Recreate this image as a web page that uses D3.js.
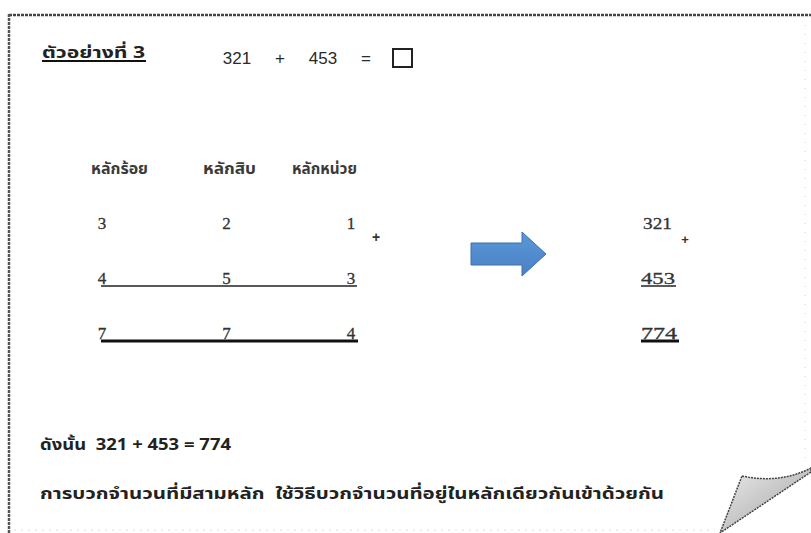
<!DOCTYPE html>
<html><head><meta charset="utf-8">
<script src="https://cdn.jsdelivr.net/npm/d3@7"></script>
<style>
html,body{margin:0;padding:0;background:#fff;}
svg{display:block;}
.th{font-family:Tahoma,"Noto Sans Thai","Noto Sans","DejaVu Sans",sans-serif;}
.num{font-family:"Liberation Serif","DejaVu Serif",serif;}
.sans{font-family:"Liberation Sans","DejaVu Sans",sans-serif;}
</style></head>
<body>
<script>
// ---- data ----
const title = "ตัวอย่างที่ 3";
const problemTokens = ["321", "+", "453", "="];
const places = ["หลักร้อย", "หลักสิบ", "หลักหน่วย"];
const addend1 = [3, 2, 1];
const addend2 = [4, 5, 3];
const total = [7, 7, 4];
const rowKeys = ["a1", "a2", "sum"];
const compact = ["321", "453", "774"];
const conclusion = "ดังนั้น  321 + 453 = 774";
const summary = "การบวกจำนวนที่มีสามหลัก  ใช้วิธีบวกจำนวนที่อยู่ในหลักเดียวกันเข้าด้วยกัน";

const W = 811, H = 533;
const svg = d3.select("body").append("svg").attr("width", W).attr("height", H);
svg.append("rect").attr("width", W).attr("height", H).attr("fill", "#fff");
const defs = svg.append("defs");

// page frame
svg.append("line").attr("x1", 9).attr("x2", W).attr("y1", 15).attr("y2", 15)
  .attr("stroke", "#444").attr("stroke-width", 2.5).attr("stroke-dasharray", "3,1");
svg.append("line").attr("x1", 9).attr("x2", 9).attr("y1", 14).attr("y2", H)
  .attr("stroke", "#555").attr("stroke-width", 2.5).attr("stroke-dasharray", "3,1");
svg.append("line").attr("x1", 805).attr("x2", 805).attr("y1", 25).attr("y2", 460)
  .attr("stroke", "#d4d4d4").attr("stroke-width", 1).attr("stroke-dasharray", "1,8");
svg.append("line").attr("x1", 14).attr("x2", 715).attr("y1", 530).attr("y2", 530)
  .attr("stroke", "#e0e0e0").attr("stroke-width", 1).attr("stroke-dasharray", "2,5");

// title
svg.append("text").attr("class", "th").attr("x", 42).attr("y", 58)
  .attr("font-size", 16).attr("font-weight", "bold").attr("fill", "#222")
  .attr("textLength", 103).attr("lengthAdjust", "spacingAndGlyphs").text(title);
svg.append("line").attr("x1", 42).attr("x2", 146).attr("y1", 61).attr("y2", 61)
  .attr("stroke", "#111").attr("stroke-width", 2);

// problem line
const px = d3.scalePoint().domain(problemTokens.map((d, i) => i)).range([237, 366]);
svg.selectAll("text.prob").data(problemTokens).join("text").attr("class", "prob sans")
  .attr("x", (d, i) => px(i)).attr("y", 64).attr("text-anchor", "middle")
  .attr("font-size", 17).attr("fill", "#2a2a2a").text(d => d);
svg.append("rect").attr("x", 393).attr("y", 49).attr("width", 19).attr("height", 18)
  .attr("fill", "none").attr("stroke", "#222").attr("stroke-width", 2);

// columns
const x = d3.scalePoint().domain(places).range([102, 351]);
const xh = d3.scaleOrdinal().domain(places).range([119.5, 229.5, 324.5]);
const hw = d3.scaleOrdinal().domain(places).range([57, 53, 65]);
const y = d3.scalePoint().domain(rowKeys).range([229, 339]);

svg.selectAll("text.hdr").data(places).join("text").attr("class", "hdr th")
  .attr("x", d => xh(d) - hw(d) / 2).attr("y", 174)
  .attr("textLength", d => hw(d)).attr("lengthAdjust", "spacingAndGlyphs")
  .attr("font-size", 16).attr("font-weight", "bold").attr("fill", "#3a3a3a").text(d => d);

const rows = [addend1, addend2, total];
rows.forEach((vals, r) => {
  svg.selectAll("text.r" + r).data(vals).join("text").attr("class", "num r" + r)
    .attr("x", (d, i) => x(places[i])).attr("y", y(rowKeys[r]))
    .attr("text-anchor", "middle").attr("font-size", 17)
    .attr("fill", "#333").attr("stroke", "#333").attr("stroke-width", 0.3).text(d => d);
});
svg.append("text").attr("class", "sans").attr("x", 376).attr("y", 242).attr("text-anchor", "middle")
  .attr("font-size", 14).attr("font-weight", "bold").attr("fill", "#333").text("+");
svg.append("line").attr("x1", x(places[0]) - 1).attr("x2", x(places[2]) + 6)
  .attr("y1", y("a2") + 2).attr("y2", y("a2") + 2).attr("stroke", "#222").attr("stroke-width", 1.6);
svg.append("line").attr("x1", x(places[0]) - 1).attr("x2", x(places[2]) + 7)
  .attr("y1", y("sum") + 2).attr("y2", y("sum") + 2).attr("stroke", "#111").attr("stroke-width", 3);

// arrow
const ax0 = 471, ax1 = 546, ay = 254;
const arrowPath = d3.path();
arrowPath.moveTo(ax0, ay - 11); arrowPath.lineTo(522, ay - 11); arrowPath.lineTo(522, ay - 22);
arrowPath.lineTo(ax1, ay); arrowPath.lineTo(522, ay + 22); arrowPath.lineTo(522, ay + 11);
arrowPath.lineTo(ax0, ay + 11); arrowPath.closePath();
const grad = defs.append("linearGradient").attr("id", "ag")
  .attr("x1", 0).attr("y1", 0).attr("x2", 0).attr("y2", 1);
grad.append("stop").attr("offset", "0%").attr("stop-color", "#5b98d8");
grad.append("stop").attr("offset", "100%").attr("stop-color", "#4a80c4");
svg.append("path").attr("d", arrowPath.toString()).attr("fill", "url(#ag)")
  .attr("stroke", "#3f70ae").attr("stroke-width", 1);

// compact form
const cw = d3.scaleOrdinal().domain(compact).range([29, 34, 36]);
svg.selectAll("text.cmp").data(compact).join("text").attr("class", "cmp num")
  .attr("x", (d, i) => i === 0 ? 643 : 641).attr("y", (d, i) => y(rowKeys[i]))
  .attr("textLength", d => cw(d)).attr("lengthAdjust", "spacingAndGlyphs")
  .attr("font-size", 17).attr("fill", "#333").attr("stroke", "#333").attr("stroke-width", 0.3)
  .text(d => d);
svg.append("text").attr("class", "sans").attr("x", 685).attr("y", 244).attr("text-anchor", "middle")
  .attr("font-size", 13).attr("font-weight", "bold").attr("fill", "#333").text("+");
svg.append("line").attr("x1", 641).attr("x2", 676).attr("y1", y("a2") + 2).attr("y2", y("a2") + 2)
  .attr("stroke", "#222").attr("stroke-width", 1.6);
svg.append("line").attr("x1", 641).attr("x2", 679).attr("y1", y("sum") + 2).attr("y2", y("sum") + 2)
  .attr("stroke", "#111").attr("stroke-width", 3);

// conclusion text
svg.append("text").attr("class", "th").attr("x", 40).attr("y", 450)
  .attr("font-size", 16).attr("font-weight", "bold").attr("fill", "#222")
  .attr("textLength", 191).attr("lengthAdjust", "spacingAndGlyphs")
  .style("white-space", "pre").text(conclusion);
svg.append("text").attr("class", "th").attr("x", 40).attr("y", 499)
  .attr("font-size", 16).attr("font-weight", "bold").attr("fill", "#222")
  .attr("textLength", 624).attr("lengthAdjust", "spacingAndGlyphs")
  .style("white-space", "pre").text(summary);

// page curl
const cg = defs.append("linearGradient").attr("id", "cg")
  .attr("x1", 0).attr("y1", 0).attr("x2", 1).attr("y2", 1);
cg.append("stop").attr("offset", "0%").attr("stop-color", "#ececec");
cg.append("stop").attr("offset", "100%").attr("stop-color", "#a0a0a0");
const cp = d3.path();
cp.moveTo(742, 476); cp.quadraticCurveTo(780, 484, 811, 468);
cp.lineTo(811, 472); cp.lineTo(720, 533); cp.lineTo(742, 476); cp.closePath();
svg.append("path").attr("d", cp.toString()).attr("fill", "url(#cg)")
  .attr("stroke", "#444").attr("stroke-width", 1.5).attr("stroke-dasharray", "2,1");
</script>
</body></html>
